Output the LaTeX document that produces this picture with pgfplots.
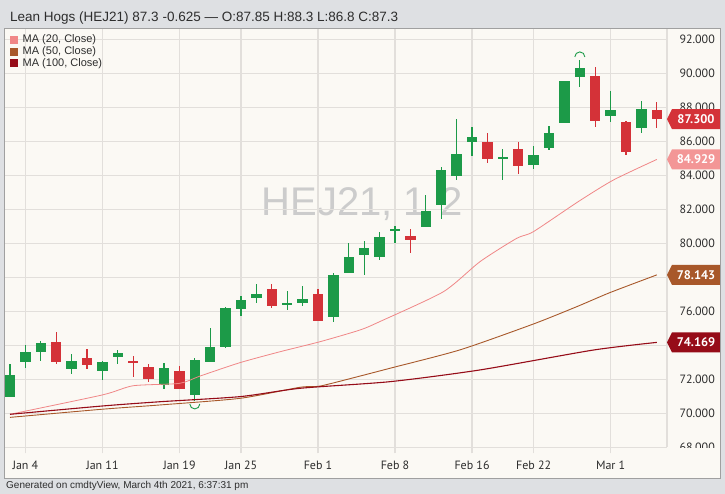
\documentclass[border=0pt]{standalone}
\usepackage{pgfplots}
\pgfplotsset{compat=1.18}
\usepackage{pgfplotstable}
\usepackage{fontspec}
\setmainfont{Liberation Sans}
\newfontfamily\tickfont{PT Sans}
\definecolor{bggray}{RGB}{222,224,227}
\definecolor{panel}{RGB}{251,249,244}
\definecolor{gridc}{RGB}{226,223,219}
\definecolor{bordc}{RGB}{160,160,160}
\definecolor{greenc}{RGB}{28,154,72}
\definecolor{redc}{RGB}{212,50,56}
\definecolor{ma20}{RGB}{240,135,135}
\definecolor{ma50}{RGB}{168,88,42}
\definecolor{ma100}{RGB}{150,12,24}
\definecolor{tag20}{RGB}{243,150,150}
\definecolor{txt}{RGB}{45,45,45}

\pgfdeclareplotmark{lowarc}{\pgfpathmoveto{\pgfqpoint{-5pt}{0pt}}\pgfpatharc{180}{360}{5pt}\pgfusepathqstroke}
\pgfdeclareplotmark{higharc}{\pgfpathmoveto{\pgfqpoint{-5pt}{0pt}}\pgfpatharc{180}{0}{5pt}\pgfusepathqstroke}

\pgfplotstableread{
i o h l c
0 70.98 72.88 70.98 72.25
1 73.00 74.02 72.65 73.62
2 73.62 74.25 73.08 74.12
4 72.59 73.49 72.31 73.09
6 72.49 73.09 71.96 73.00
7 73.33 73.72 72.88 73.56
10 71.66 72.94 71.43 72.65
12 71.08 73.24 70.72 73.14
13 73.04 75.00 73.04 73.88
14 73.88 76.27 73.85 76.18
15 76.13 76.90 75.72 76.67
16 76.76 77.60 76.50 77.02
18 76.40 77.21 76.08 76.47
19 76.50 77.50 76.33 76.70
21 75.65 78.24 75.39 78.14
22 78.27 80.00 78.27 79.21
23 79.31 80.14 78.14 79.71
24 79.18 80.66 79.02 80.35
25 80.73 81.04 80.04 80.78
27 80.98 82.84 80.94 81.90
28 82.25 84.51 81.41 84.31
29 83.96 87.31 83.72 85.25
30 85.98 86.86 85.15 86.24
32 85.00 85.55 83.72 85.05
34 84.61 85.73 84.35 85.19
35 85.62 86.92 85.49 86.47
36 87.06 89.55 87.06 89.55
37 89.80 90.78 89.21 90.29
39 87.50 88.98 87.15 87.84
41 86.80 88.39 86.51 87.925
}\greens

\pgfplotstableread{
i o h l c
3 74.21 74.76 72.90 73.00
5 73.24 73.76 72.59 72.84
8 73.09 73.37 72.12 72.94
9 72.71 72.90 71.86 72.02
11 72.51 72.80 71.41 71.41
17 77.31 77.60 76.18 76.31
20 77.00 77.29 75.45 75.45
26 80.43 80.84 79.45 80.20
31 85.98 86.47 84.71 84.94
33 85.55 85.98 84.06 84.55
38 89.86 90.35 86.86 87.21
40 87.15 87.20 85.19 85.39
42 87.85 88.30 86.80 87.30
}\reds

\pgfplotstableread{
i v
0 69.94
6 71.08
8 71.62
11 71.76
12.34 72.19
14.94 72.98
17.53 73.62
20.13 74.21
22.73 74.90
24.03 75.40
28.14 77.15
30.52 78.92
32.9 80.29
33.98 80.68
36.9 82.45
39.18 83.72
42 84.93
}\maA

\pgfplotstableread{
i v
0 69.76
6 70.24
9.74 70.49
14.94 70.88
18.83 71.53
20.13 71.60
22.73 72.19
24.68 72.65
29.22 73.73
33.98 75.25
36.8 76.27
38.96 77.10
42 78.14
}\maB

\pgfplotstableread{
i v
0 69.94
6 70.43
9.74 70.68
14.94 70.98
18.83 71.47
24.68 71.86
30.52 72.55
37.88 73.72
42 74.17
}\maC

\begin{document}
\begin{tikzpicture}[x=1pt,y=1pt]
\useasboundingbox (0,0) rectangle (725,494);
\fill[bggray] (0,0) rectangle (725,494);
\fill[panel] (4,16) rectangle (720,466);
% watermark
\node[text=black!20, font=\fontsize{40}{40}\selectfont, anchor=center] at (362,290) {HEJ21, 1\hspace{14pt}2};
% title
\node[anchor=west, text=txt, font=\fontsize{13.5}{15}\selectfont, inner sep=0] at (10,476) {Lean Hogs (HEJ21) 87.3 -0.625 --- O:87.85 H:88.3 L:86.8 C:87.3};
% footer
\node[anchor=west, text=txt, font=\fontsize{10}{12}\selectfont, inner sep=0] at (6,8) {Generated on cmdtyView, March 4th 2021, 6:37:31 pm};

\begin{axis}[
  at={(4pt,46.7pt)}, anchor=south west,
  scale only axis, width=663pt, height=419.3pt,
  xmin=-0.39, xmax=42.66, ymin=68, ymax=92.66,
  axis line style={draw=none},
  grid=major, major grid style={gridc, line width=1.3pt},
  ytick={68,70,...,92}, yticklabel pos=right, ytick pos=right,
  ytick style={draw=none},
  yticklabel style={anchor=west, xshift=3pt, font=\tickfont\fontsize{12}{12}\selectfont, text=txt,
    /pgf/number format/.cd, fixed, fixed zerofill, precision=3, 1000 sep={}, assume math mode=true},
  xtick={1,6,11,15,20,25,30,34,39},
  xticklabels={Jan 4,Jan 11,Jan 19,Jan 25,Feb 1,Feb 8,Feb 16,Feb 22,Mar 1},
  xtick pos=bottom, tick align=outside, major tick length=6pt,
  xtick style={gridc, line width=1.3pt},
  xticklabel style={font=\tickfont\fontsize{12}{12}\selectfont, text=txt, yshift=-4pt},
  clip=false,
]
% wicks
\addplot[draw=none, mark=none, error bars/.cd, y dir=both, y explicit,
  error mark=none, error bar style={draw=greenc, line width=1.3pt}]
  table[x=i, y expr={(\thisrow{h}+\thisrow{l})/2}, y error expr={(\thisrow{h}-\thisrow{l})/2}] {\greens};
\addplot[draw=none, mark=none, error bars/.cd, y dir=both, y explicit,
  error mark=none, error bar style={draw=redc, line width=1.3pt}]
  table[x=i, y expr={(\thisrow{h}+\thisrow{l})/2}, y error expr={(\thisrow{h}-\thisrow{l})/2}] {\reds};
% bodies
\addplot[draw=none, mark=none, error bars/.cd, y dir=both, y explicit,
  error mark=none, error bar style={draw=greenc, line width=10.5pt}]
  table[x=i, y expr={(\thisrow{o}+\thisrow{c})/2}, y error expr={max(abs(\thisrow{o}-\thisrow{c})/2,0.06)}] {\greens};
\addplot[draw=none, mark=none, error bars/.cd, y dir=both, y explicit,
  error mark=none, error bar style={draw=redc, line width=10.5pt}]
  table[x=i, y expr={(\thisrow{o}+\thisrow{c})/2}, y error expr={max(abs(\thisrow{o}-\thisrow{c})/2,0.06)}] {\reds};
% moving averages
\addplot[ma20, line width=0.8pt, mark=none, smooth, tension=0.4] table[x=i, y=v] {\maA};
\addplot[ma50, line width=0.9pt, mark=none, smooth, tension=0.4] table[x=i, y=v] {\maB};
\addplot[ma100, line width=1.1pt, mark=none, smooth, tension=0.4] table[x=i, y=v] {\maC};
% extreme markers
\addplot[greenc, line width=0.9pt, only marks, mark=lowarc] coordinates {(12,70.55)};
\addplot[greenc, line width=0.9pt, only marks, mark=higharc] coordinates {(37,90.96)};
\coordinate (tA) at (axis cs:42.66,87.3);
\coordinate (tB) at (axis cs:42.66,84.929);
\coordinate (tC) at (axis cs:42.66,78.143);
\coordinate (tD) at (axis cs:42.66,74.169);
\end{axis}
% cover bottom half of clipped 68 label
\fill[panel] (667.7,16.5) rectangle (719.5,46);
% plot area right edge
\draw[gridc, line width=1.3pt] (667,46.7) -- (667,466);
% price tags
\foreach \t/\lab/\col in {tA/87.300/redc, tB/84.929/tag20, tC/78.143/ma50, tD/74.169/ma100}{
  \fill[\col] (\t) -- ++(5,10) -- ++(48.5,0) -- ++(0,-20) -- ++(-48.5,0) -- cycle;
  \node[text=white, font=\tickfont\bfseries\fontsize{12.5}{12}\selectfont] at ([xshift=29pt]\t) {\lab};
}
% panel border
\draw[bordc, line width=0.8pt] (4,16) rectangle (720,466);
% legend
\foreach \yy/\col/\lab in {454/ma20/{MA (20, Close)}, 442.3/ma50/{MA (50, Close)}, 430.7/ma100/{MA (100, Close)}}{
  \fill[\col] (10,\yy-4) rectangle (18,\yy+4);
  \node[anchor=west, inner sep=0, text=txt, font=\fontsize{11}{11}\selectfont] at (22.5,\yy) {\lab};
}
\end{tikzpicture}
\end{document}
